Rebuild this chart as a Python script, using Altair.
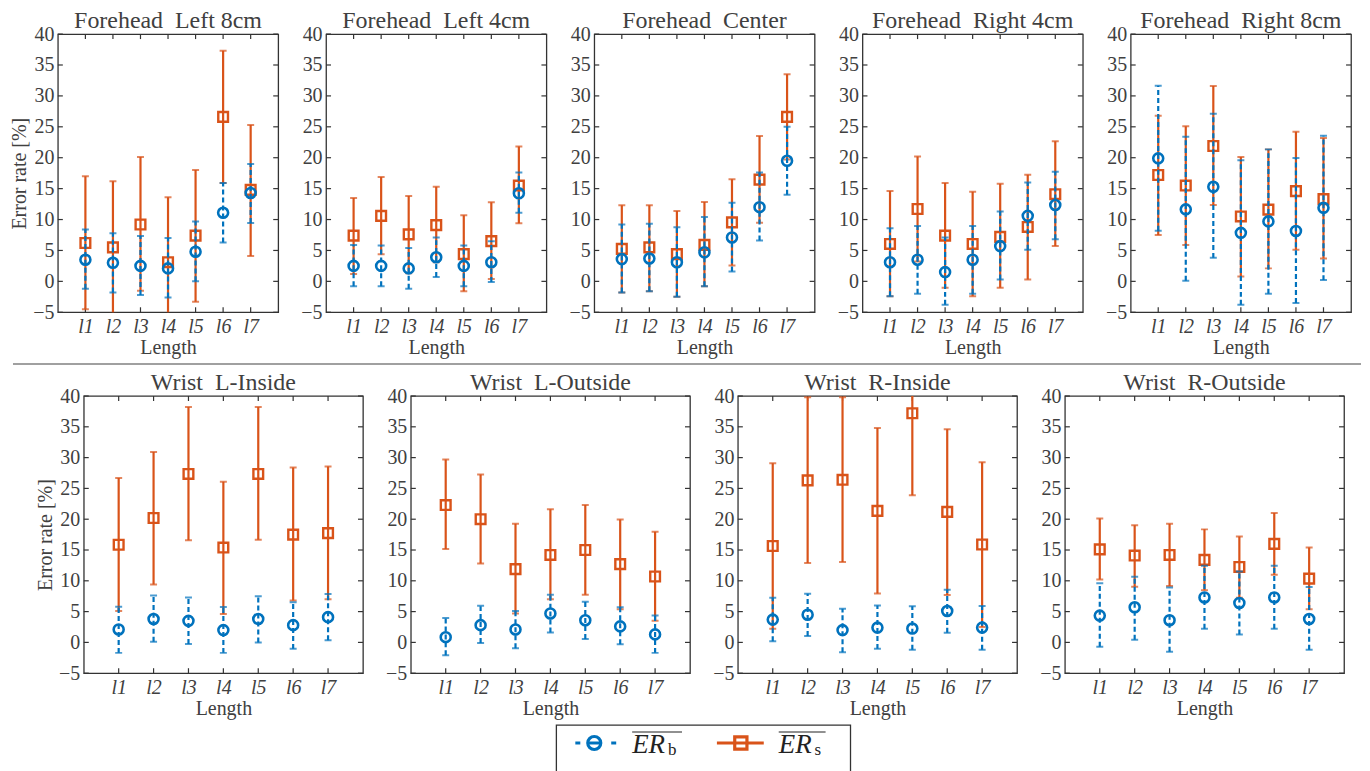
import altair as alt
import pandas as pd

CATS = ["l1", "l2", "l3", "l4", "l5", "l6", "l7"]
TITLES = ["Forehead\u00a0 Left 8cm", "Forehead\u00a0 Left 4cm", "Forehead\u00a0 Center",
          "Forehead\u00a0 Right 4cm", "Forehead\u00a0 Right 8cm",
          "Wrist\u00a0 L-Inside", "Wrist\u00a0 L-Outside", "Wrist\u00a0 R-Inside", "Wrist\u00a0 R-Outside"]
YTICKS = [-5, 0, 5, 10, 15, 20, 25, 30, 35, 40]

# ER_b (blue): mean, lower, upper per panel
B_MEAN = [
    [3.5, 3.0, 2.5, 2.1, 4.8, 11.1, 14.3],
    [2.5, 2.5, 2.1, 3.9, 2.5, 3.1, 14.25],
    [3.6, 3.7, 3.1, 4.7, 7.1, 12.0, 19.5],
    [3.1, 3.5, 1.5, 3.5, 5.7, 10.6, 12.35],
    [19.9, 11.65, 15.3, 7.85, 9.7, 8.15, 11.9],
    [2.1, 3.8, 3.5, 2.0, 3.8, 2.8, 4.1],
    [0.85, 2.8, 2.1, 4.7, 3.6, 2.6, 1.3],
    [3.7, 4.5, 2.0, 2.4, 2.25, 5.1, 2.4],
    [4.35, 5.7, 3.6, 7.3, 6.4, 7.3, 3.8],
]
B_LO = [
    [-1.2, -1.8, -2.2, -2.6, 0.0, 6.3, 9.45],
    [-0.8, -0.8, -1.2, 0.7, -0.8, -0.1, 11.1],
    [-1.8, -1.6, -2.5, -0.8, 1.6, 6.6, 14.0],
    [-2.4, -2.0, -3.8, -2.0, 0.3, 5.1, 6.8],
    [8.2, 0.1, 3.8, -3.8, -2.0, -3.5, 0.2],
    [-1.7, 0.1, -0.25, -1.7, 0.0, -1.05, 0.35],
    [-2.1, -0.1, -0.95, 1.6, 0.55, -0.3, -1.7],
    [0.2, 1.05, -1.6, -1.05, -1.2, 1.55, -1.2],
    [-0.7, 0.45, -1.5, 2.2, 1.3, 2.2, -1.2],
]
B_HI = [
    [8.4, 7.8, 7.35, 7.0, 9.7, 15.9, 19.0],
    [5.9, 5.8, 5.4, 7.1, 5.8, 6.5, 17.6],
    [9.2, 9.3, 8.75, 10.4, 12.7, 17.6, 25.0],
    [8.6, 8.95, 7.1, 8.95, 11.3, 16.0, 17.75],
    [31.65, 23.4, 27.1, 19.6, 21.35, 19.95, 23.55],
    [5.8, 7.6, 7.3, 5.75, 7.5, 6.5, 7.85],
    [3.95, 5.95, 5.1, 7.75, 6.6, 5.7, 4.35],
    [7.25, 7.9, 5.45, 6.0, 5.85, 8.55, 5.9],
    [9.6, 10.65, 8.9, 12.45, 11.5, 12.45, 9.0],
]
# ER_s (orange): mean, lower, upper per panel
S_MEAN = [
    [6.2, 5.5, 9.2, 3.1, 7.4, 26.6, 14.8],
    [7.4, 10.6, 7.6, 9.1, 4.4, 6.5, 15.5],
    [5.25, 5.5, 4.4, 5.9, 9.55, 16.45, 26.6],
    [6.05, 11.7, 7.4, 6.05, 7.2, 8.8, 14.1],
    [17.2, 15.5, 21.9, 10.5, 11.6, 14.6, 13.3],
    [15.85, 20.2, 27.35, 15.4, 27.35, 17.5, 17.75],
    [22.3, 20.0, 11.9, 14.2, 15.0, 12.7, 10.7],
    [15.65, 26.3, 26.4, 21.35, 37.2, 21.2, 15.9],
    [15.1, 14.1, 14.2, 13.4, 12.25, 16.0, 10.35],
]
S_LO = [
    [-4.5, -5.2, -1.5, -7.4, -3.3, 15.9, 4.1],
    [1.2, 4.4, 1.3, 3.1, -1.6, 0.4, 9.4],
    [-1.8, -1.6, -2.5, -0.8, 2.55, 9.5, 19.7],
    [-2.4, 3.2, -1.05, -2.4, -1.05, 0.3, 5.7],
    [7.5, 5.9, 12.35, 0.8, 2.1, 5.1, 3.7],
    [5.1, 9.4, 16.6, 4.6, 16.65, 6.8, 7.0],
    [15.15, 12.8, 4.7, 7.0, 7.75, 5.4, 3.5],
    [2.2, 12.9, 13.05, 7.95, 23.9, 7.7, 2.5],
    [10.2, 9.05, 9.15, 8.45, 7.25, 11.0, 5.4],
]
S_HI = [
    [17.0, 16.2, 20.1, 13.6, 18.0, 37.3, 25.3],
    [13.5, 16.9, 13.8, 15.3, 10.7, 12.8, 21.8],
    [12.3, 12.3, 11.4, 12.85, 16.5, 23.5, 33.5],
    [14.6, 20.2, 15.9, 14.5, 15.8, 17.25, 22.65],
    [26.8, 25.1, 31.6, 20.1, 21.35, 24.2, 23.2],
    [26.7, 30.9, 38.2, 26.1, 38.2, 28.4, 28.55],
    [29.7, 27.25, 19.25, 21.6, 22.3, 19.95, 17.95],
    [29.1, 39.8, 39.8, 34.8, 50.5, 34.6, 29.25],
    [20.1, 19.0, 19.25, 18.35, 17.2, 21.0, 15.4],
]

BLUE = "#0072BD"
ORANGE = "#D95319"
AX = "#333333"
TXT = "#404040"
DARK = "#222222"
FONT = "Liberation Serif, Times New Roman, serif"


def panel(i, w, h, ytitle):
    sdf = pd.DataFrame({"cat": CATS, "mean": S_MEAN[i], "lo": S_LO[i], "hi": S_HI[i]})
    bdf = pd.DataFrame({"cat": CATS, "mean": B_MEAN[i], "lo": B_LO[i], "hi": B_HI[i]})
    xs = alt.Scale(type="point", domain=CATS, padding=1)
    ys = alt.Scale(domain=[-5, 40], nice=False, zero=False)
    xax = alt.Axis(labelFontStyle="italic", ticks=False, domain=False, grid=False, labelAngle=0,
                   labelPadding=4, titlePadding=1, labelFontSize=20, titleFontSize=20,
                   titleFontWeight="normal", labelFont=FONT, titleFont=FONT,
                   labelColor=TXT, titleColor=TXT)
    ext = 24 if ytitle else 30
    yax = alt.Axis(values=YTICKS, ticks=False, domain=False, grid=False, labelPadding=4,
                   labelFontSize=20, titleFontSize=20, titleFontWeight="normal",
                   minExtent=ext, maxExtent=ext, titlePadding=4, labelFont=FONT, titleFont=FONT,
                   labelColor=TXT, titleColor=TXT)

    def X():
        return alt.X("cat:N", scale=xs, axis=xax, title="Length")

    def Y(f):
        return alt.Y(f + ":Q", scale=ys, axis=yax, title=ytitle)

    ytk = pd.DataFrame({"v": YTICKS})
    xtk = pd.DataFrame({"cat": CATS})
    tl = alt.Chart(ytk).mark_rule(color=AX, strokeWidth=1.2).encode(y=Y("v"), x=alt.value(0), x2=alt.value(5))
    tr = alt.Chart(ytk).mark_rule(color=AX, strokeWidth=1.2).encode(y=Y("v"), x=alt.value(w - 5), x2=alt.value(w))
    tb = alt.Chart(xtk).mark_rule(color=AX, strokeWidth=1.2).encode(x=X(), y=alt.value(h - 5), y2=alt.value(h))
    tt = alt.Chart(xtk).mark_rule(color=AX, strokeWidth=1.2).encode(x=X(), y=alt.value(0), y2=alt.value(5))

    s = alt.Chart(sdf)
    b = alt.Chart(bdf)
    layers = [
        tl, tr, tb, tt,
        s.mark_rule(color=ORANGE, strokeWidth=2.2, clip=True).encode(x=X(), y=Y("lo"), y2="hi:Q"),
        s.mark_tick(color=ORANGE, thickness=2, size=7, clip=True).encode(x=X(), y=Y("lo")),
        s.mark_tick(color=ORANGE, thickness=2, size=7, clip=True).encode(x=X(), y=Y("hi")),
        s.mark_point(shape="square", filled=False, size=95, strokeWidth=2.4, color=ORANGE,
                     opacity=1, clip=True).encode(x=X(), y=Y("mean")),
        b.mark_rule(color=BLUE, strokeWidth=2.2, strokeDash=[5, 3], clip=True).encode(x=X(), y=Y("lo"), y2="hi:Q"),
        b.mark_tick(color=BLUE, thickness=2, size=7, clip=True).encode(x=X(), y=Y("lo")),
        b.mark_tick(color=BLUE, thickness=2, size=7, clip=True).encode(x=X(), y=Y("hi")),
        b.mark_point(shape="circle", filled=False, size=100, strokeWidth=2.6, color=BLUE,
                     opacity=1, clip=True).encode(x=X(), y=Y("mean")),
    ]
    return alt.layer(*layers).properties(
        width=w, height=h,
        title=alt.TitleParams(TITLES[i], fontSize=24, fontWeight="normal", color=TXT, font=FONT, offset=-9),
    )


one = pd.DataFrame({"k": [0]})
NOVIEW = alt.ViewBackground(stroke="transparent", strokeWidth=0)


def spacer(w, h=1):
    return alt.Chart(one).mark_rule(strokeWidth=0, opacity=0).encode(
        x=alt.value(0), x2=alt.value(w), y=alt.value(0), y2=alt.value(h)
    ).properties(width=w, height=h, view=NOVIEW)


top = alt.hconcat(spacer(1), *[panel(i, 221, 279, "Error rate [%]" if i == 0 else None) for i in range(5)],
                  spacing=15)
bottom = alt.hconcat(spacer(27, 324),
                     *[panel(i, 280, 278, "Error rate [%]" if i == 5 else None) for i in range(5, 9)],
                     spacing=15)

sep = alt.Chart(one).mark_rule(color="#a0a0a0", strokeWidth=2).encode(
    x=alt.value(20), x2=alt.value(1372), y=alt.value(0)
).properties(width=1372, height=1, view=NOVIEW)

lb = alt.Chart(one)
LY = 18
legend = alt.layer(
    lb.mark_rect(filled=False, stroke=AX, strokeWidth=1.3).encode(
        x=alt.value(0), x2=alt.value(295), y=alt.value(0), y2=alt.value(70)),
    lb.mark_rule(color=BLUE, strokeWidth=3).encode(x=alt.value(19), x2=alt.value(24), y=alt.value(LY)),
    lb.mark_rule(color=BLUE, strokeWidth=3).encode(x=alt.value(55), x2=alt.value(60), y=alt.value(LY)),
    lb.mark_rule(color=BLUE, strokeWidth=3).encode(x=alt.value(32), x2=alt.value(44), y=alt.value(LY)),
    lb.mark_point(shape="circle", filled=False, size=170, strokeWidth=3.2, color=BLUE, opacity=1).encode(
        x=alt.value(38), y=alt.value(LY)),
    lb.mark_text(text="ER", font=FONT, fontStyle="italic", fontSize=27, align="left", baseline="alphabetic",
                 color=DARK).encode(x=alt.value(76), y=alt.value(28)),
    lb.mark_text(text="b", font=FONT, fontSize=17, align="left", baseline="alphabetic",
                 color=DARK).encode(x=alt.value(112), y=alt.value(30)),
    lb.mark_rule(color=DARK, strokeWidth=1.2).encode(x=alt.value(76), x2=alt.value(126), y=alt.value(7)),
    lb.mark_rule(color=ORANGE, strokeWidth=3).encode(x=alt.value(161), x2=alt.value(208), y=alt.value(LY)),
    lb.mark_point(shape="square", filled=False, size=150, strokeWidth=3.2, color=ORANGE, opacity=1).encode(
        x=alt.value(185), y=alt.value(LY)),
    lb.mark_text(text="ER", font=FONT, fontStyle="italic", fontSize=27, align="left", baseline="alphabetic",
                 color=DARK).encode(x=alt.value(223), y=alt.value(28)),
    lb.mark_text(text="s", font=FONT, fontSize=17, align="left", baseline="alphabetic",
                 color=DARK).encode(x=alt.value(259), y=alt.value(30)),
    lb.mark_rule(color=DARK, strokeWidth=1.2).encode(x=alt.value(223), x2=alt.value(270), y=alt.value(7)),
).properties(width=295, height=45, view=NOVIEW)

legrow = alt.hconcat(spacer(564), legend, spacing=0)

chart = alt.ConcatChart(concat=[top, sep, bottom, legrow], columns=1, align="none", spacing=5).properties(
    padding={"left": -15, "top": -1, "right": 0, "bottom": 0}
).configure(font=FONT).configure_view(stroke=AX, strokeWidth=1.3).configure_axis(
    labelColor=TXT, titleColor=TXT, labelFont=FONT, titleFont=FONT
).configure_title(font=FONT, color=TXT)

chart.save("out.html", embed_options={"renderer": "svg", "actions": False})
